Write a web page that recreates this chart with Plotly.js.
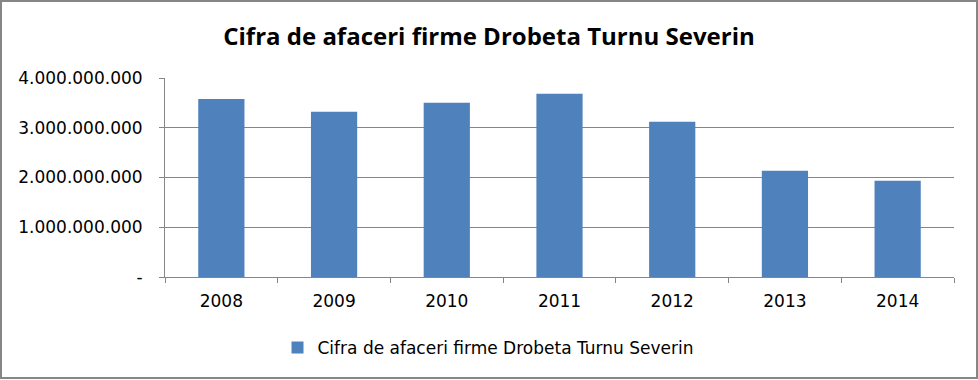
<!DOCTYPE html>
<html>
<head>
<meta charset="utf-8">
<script src="https://cdn.plot.ly/plotly-3.0.1.min.js"></script>
<style>html,body{margin:0;padding:0;background:#fff;}#chart{width:978px;height:380px;}</style>
</head>
<body>
<div id="chart"></div>
<script>
const years = ["2008", "2009", "2010", "2011", "2012", "2013", "2014"];
const turnover = [3578000000, 3323000000, 3503000000, 3684000000, 3122000000, 2137000000, 1936000000];
const seriesName = "Cifra de afaceri firme Drobeta Turnu Severin";
const chartTitle = "Cifra de afaceri firme Drobeta Turnu Severin";
const yTickVals = [0, 1000000000, 2000000000, 3000000000, 4000000000];
const yTickText = ["-", "1.000.000.000", "2.000.000.000", "3.000.000.000", "4.000.000.000"];

const W = 978, H = 380, ml = 165, mr = 24, mt = 78, mb = 103;
const pw = W - ml - mr, ph = H - mt - mb;
const px = x => (x - ml) / pw;
const py = y => (H - mb - y) / ph;

const grey = "#868686";
const tickFont = {family: "DejaVu Sans", size: 17, color: "#000"};

Plotly.newPlot("chart", [{
  type: "bar",
  x: years,
  y: turnover,
  name: seriesName,
  marker: {color: "#4F81BD"},
  showlegend: true
}], {
  width: W, height: H,
  margin: {l: ml, r: mr, t: mt, b: mb, pad: 0},
  paper_bgcolor: "#fff", plot_bgcolor: "#fff",
  bargap: 0.59,
  title: {
    text: "<b>" + chartTitle + "</b>",
    font: {family: "Open Sans", size: 24, color: "#000"},
    x: 0.5, xref: "container", xanchor: "center",
    y: 1 - 37 / H, yref: "container", yanchor: "middle"
  },
  xaxis: {
    type: "category",
    showline: true, linecolor: grey, linewidth: 1,
    ticks: "outside", ticklen: 5, tickcolor: grey, tickson: "boundaries",
    tickfont: tickFont, ticklabelstandoff: 9,
    showgrid: false, zeroline: false, fixedrange: true
  },
  yaxis: {
    range: [0, 4000000000],
    tickvals: yTickVals, ticktext: yTickText,
    showline: true, linecolor: grey, linewidth: 1,
    ticks: "outside", ticklen: 5, tickcolor: grey,
    tickfont: tickFont, ticklabelstandoff: 13,
    showgrid: true, gridcolor: grey, gridwidth: 1,
    zeroline: false, fixedrange: true
  },
  showlegend: true,
  legend: {
    orientation: "h",
    x: px(488), xanchor: "center",
    y: py(348), yanchor: "middle",
    font: {family: "DejaVu Sans", size: 17, color: "#000"},
    itemwidth: 30, bgcolor: "rgba(0,0,0,0)"
  },
  shapes: [{
    type: "rect", xref: "paper", yref: "paper",
    x0: px(1), x1: px(977), y0: py(378), y1: py(1),
    line: {color: grey, width: 2}, fillcolor: "rgba(0,0,0,0)", layer: "above"
  }]
}, {displayModeBar: false, staticPlot: true});
</script>
</body>
</html>
